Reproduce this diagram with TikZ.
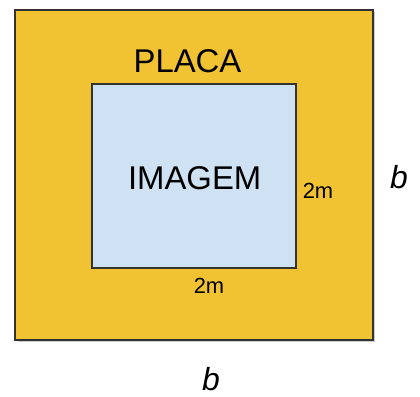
\documentclass[tikz,border=0pt]{standalone}
\usepackage{fontspec}
\setmainfont{Liberation Sans}
\begin{document}
\begin{tikzpicture}[x=1bp,y=-1bp,
  plate/.style={draw=black!80,line width=2bp,fill=plateyellow,inner sep=0pt},
  image/.style={draw=black!80,line width=1.6bp,fill=imageblue,inner sep=0pt},
  bigtext/.style={anchor=base,inner sep=0pt,font=\fontsize{33}{39}\selectfont},
  dimtext/.style={anchor=base,inner sep=0pt,font=\fontsize{22}{26}\selectfont},
  vartext/.style={anchor=base,inner sep=0pt,font=\fontsize{32}{38}\selectfont\itshape}]
\definecolor{plateyellow}{HTML}{F1C232}
\definecolor{imageblue}{HTML}{CFE2F3}
\useasboundingbox (0,0) rectangle (420,397);
\fill[black!20] (17.5,11.5) rectangle (374.5,342);
\node[plate,minimum width=357bp,minimum height=330.5bp] (placa) at (194,174.75) {};
\node[image,minimum width=204bp,minimum height=184bp] (imagem) at (194,176) {};
\node[bigtext] (placalabel) at (187.5,72) {PLACA};
\node[bigtext] (imagemlabel) at (194.7,189) {IMAGEM};
\node[dimtext] (sideright) at (318,198) {2m};
\node[dimtext] (sidebottom) at (209,293) {2m};
\node[vartext] (bright) at (399,188) {b};
\node[vartext] (bbottom) at (211,390) {b};
\end{tikzpicture}
\end{document}
